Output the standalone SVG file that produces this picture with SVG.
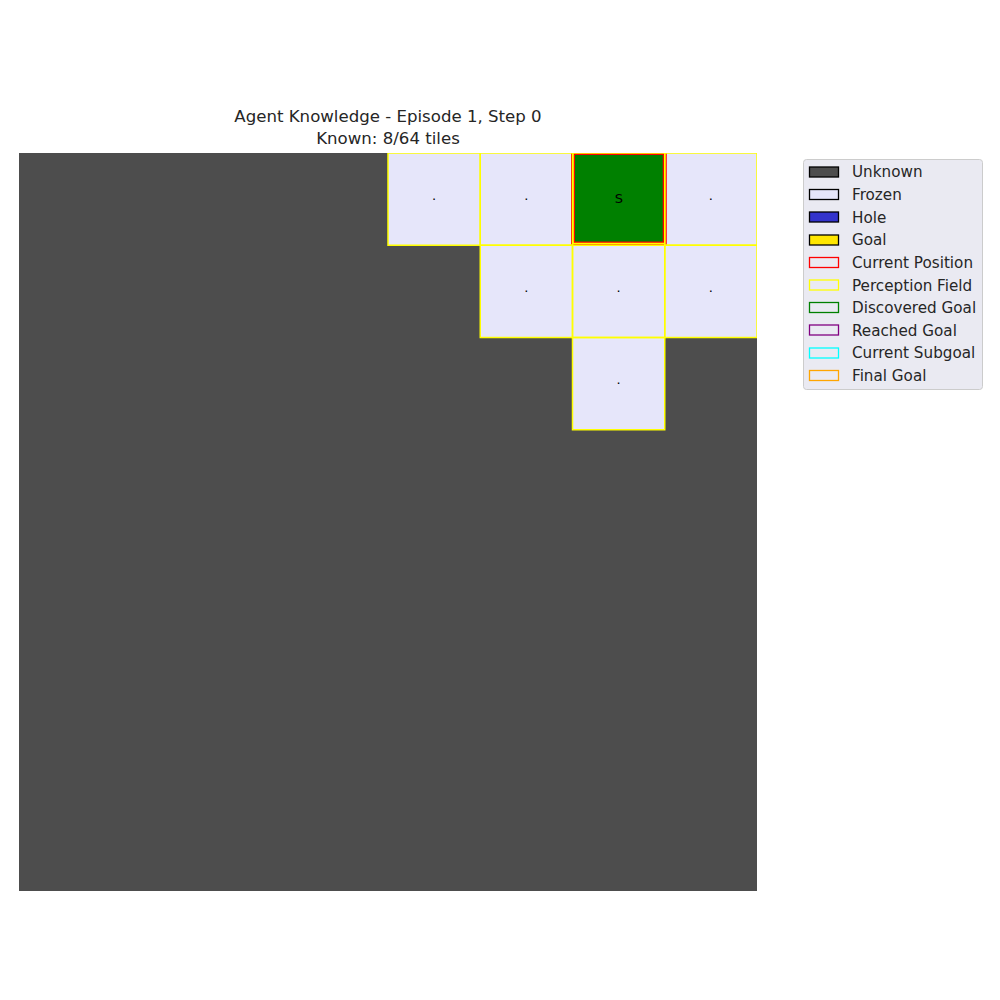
<svg xmlns="http://www.w3.org/2000/svg" width="1000" height="1000" viewBox="0 0 1000 1000">
<style>
.t{font-family:"DejaVu Sans",sans-serif;fill:#262626}
.title{font-size:16.6px;text-anchor:middle}
.leg{font-size:15.2px}
.frozen{fill:#e6e6fa}
.pf{fill:none;stroke:#ffff00;stroke-width:1.5}
.dot{font-family:"DejaVu Sans",sans-serif;font-size:13px;text-anchor:middle;fill:#000}
.lp{stroke-width:1.3}
</style>
<defs>
<clipPath id="ax"><rect x="19" y="153" width="738" height="738"/></clipPath>
</defs>
<rect width="1000" height="1000" fill="#ffffff"/>
<text class="t title" x="388" y="122">Agent Knowledge - Episode 1, Step 0</text>
<text class="t title" x="388" y="144">Known: 8/64 tiles</text>
<g id="grid" clip-path="url(#ax)">
<rect id="unknown" x="19" y="153" width="738" height="738" fill="#4d4d4d"/>
<g id="tile-0-4"><rect class="frozen" x="388" y="153" width="92.25" height="92.25"/><text class="dot" x="434.1" y="200">.</text></g>
<g id="tile-0-5"><rect class="frozen" x="480.25" y="153" width="92.25" height="92.25"/><text class="dot" x="526.4" y="200">.</text></g>
<g id="tile-0-6"><rect x="572.5" y="153" width="92.25" height="92.25" fill="#008000"/><text class="dot" x="619" y="203" font-size="14">S</text></g>
<g id="tile-0-7"><rect class="frozen" x="664.75" y="153" width="92.25" height="92.25"/><text class="dot" x="710.9" y="200">.</text></g>
<g id="tile-1-5"><rect class="frozen" x="480.25" y="245.25" width="92.25" height="92.25"/><text class="dot" x="526.4" y="292">.</text></g>
<g id="tile-1-6"><rect class="frozen" x="572.5" y="245.25" width="92.25" height="92.25"/><text class="dot" x="618.6" y="292">.</text></g>
<g id="tile-1-7"><rect class="frozen" x="664.75" y="245.25" width="92.25" height="92.25"/><text class="dot" x="710.9" y="292">.</text></g>
<g id="tile-2-6"><rect class="frozen" x="572.5" y="337.5" width="92.25" height="92.25"/><text class="dot" x="618.6" y="384">.</text></g>
<rect id="current-position" x="573" y="153" width="91.75" height="90.5" fill="none" stroke="#ff0000" stroke-width="4"/>
<g id="perception-field">
<rect class="pf" x="388" y="153" width="92.25" height="92.25"/>
<rect class="pf" x="480.25" y="153" width="92.25" height="92.25"/>
<rect class="pf" x="573" y="153" width="91.75" height="90.5" stroke-width="1"/>
<rect class="pf" x="664.75" y="153" width="92.25" height="92.25"/>
<rect class="pf" x="480.25" y="245.25" width="92.25" height="92.25"/>
<rect class="pf" x="572.5" y="245.25" width="92.25" height="92.25"/>
<rect class="pf" x="664.75" y="245.25" width="92.25" height="92.25"/>
<rect class="pf" x="572.5" y="337.5" width="92.25" height="92.25"/>
</g>
</g>
<g id="legend">
<rect x="803.5" y="159.5" width="179" height="230" rx="3" fill="#eaeaf2" stroke="#cccccc" stroke-width="1"/>
<rect class="lp" x="809.5" y="167" width="29" height="10" fill="#4d4d4d" stroke="#000"/>
<text class="t leg" x="852" y="177">Unknown</text>
<rect class="lp" x="809.5" y="189.5" width="29" height="10" fill="#e6e6fa" stroke="#000"/>
<text class="t leg" x="852" y="200">Frozen</text>
<rect class="lp" x="809.5" y="212" width="29" height="10" fill="#3333cc" stroke="#000"/>
<text class="t leg" x="852" y="222.5">Hole</text>
<rect class="lp" x="809.5" y="235" width="29" height="10" fill="#ffe600" stroke="#000"/>
<text class="t leg" x="852" y="245">Goal</text>
<rect class="lp" x="809.5" y="257.5" width="29" height="10" fill="none" stroke="#ff0000"/>
<text class="t leg" x="852" y="268">Current Position</text>
<rect class="lp" x="809.5" y="280" width="29" height="10" fill="none" stroke="#ffff00"/>
<text class="t leg" x="852" y="290.5">Perception Field</text>
<rect class="lp" x="809.5" y="302.5" width="29" height="10" fill="none" stroke="#008000"/>
<text class="t leg" x="852" y="313">Discovered Goal</text>
<rect class="lp" x="809.5" y="325" width="29" height="10" fill="none" stroke="#800080"/>
<text class="t leg" x="852" y="335.5">Reached Goal</text>
<rect class="lp" x="809.5" y="348" width="29" height="10" fill="none" stroke="#00ffff"/>
<text class="t leg" x="852" y="358">Current Subgoal</text>
<rect class="lp" x="809.5" y="370.5" width="29" height="10" fill="none" stroke="#ffa500"/>
<text class="t leg" x="852" y="381">Final Goal</text>
</g>
</svg>
